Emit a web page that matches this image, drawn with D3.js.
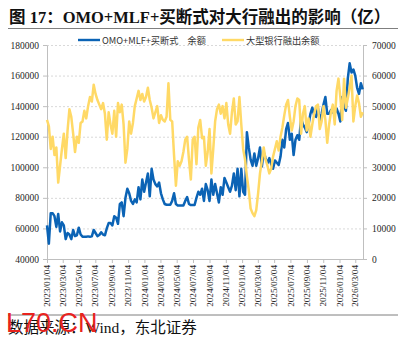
<!DOCTYPE html>
<html>
<head>
<meta charset="utf-8">
<script src="https://cdn.jsdelivr.net/npm/d3@7"></script>
<style>
  body { margin: 0; background: #fff; }
</style>
</head>
<body>
<div id="chart"></div>
<script>
// weekly points starting 2023/01/04
const startDate = '2023/01/04'

// OMO+MLF+买断式 余额 (left axis)
const omoBalance = [
  62000, 50000, 70000, 70000, 68000, 61000, 69500, 58000, 64000, 62000,
  53000, 57000, 56000, 53000, 59000, 55000, 55500, 60500, 56000, 54600,
  54600, 54600, 54800, 54600, 54800, 59000, 57000, 55000, 55700, 57500,
  56000, 55500, 60000, 63500, 63500, 62000, 68000, 67000, 63000, 76000,
  77000, 68000, 80000, 86000, 83000, 78000, 76000, 79000, 77000, 87000,
  79000, 92000, 84000, 90000, 96000, 81000, 99000, 92000, 89000, 87500,
  90000, 83000, 79000, 76000, 75500, 75500, 75500, 78000, 83000, 76000,
  75000, 75000, 75000, 75000, 78000, 80500, 76000, 75300, 75300, 75300,
  80000, 84000, 82000, 86000, 78000, 89000, 85000, 78000, 92000, 82000,
  89000, 83000, 77000, 87000, 82000, 93000, 90000, 87000, 84000, 88000,
  96000, 85000, 99000, 81000, 99000, 84000, 82000, 123000, 113000, 105000,
  101000, 109000, 101000, 106000, 113000, 100500, 110000, 106000, 102600, 106000,
  102000, 99000, 104500, 103000, 101500, 107000, 118000, 113000, 125000, 129000,
  118000, 122000, 108000, 118000, 121000, 118000, 132000, 128000, 126000, 123000,
  128000, 135000, 139000, 134000, 133000, 139000, 130000, 135000, 141000, 146000,
  135000, 135000, 137500, 136000, 135000, 138500, 135000, 130000, 146000, 140000,
  137000, 158000, 168000, 162000, 164000, 160000, 152000, 148000, 155000, 151000
]

// 大型银行融出余额 (right axis)
const bankLending = [
  45500, 43500, 36000, 40000, 34000, 36500, 25000, 30500, 36000, 41000,
  33000, 42000, 49000, 46500, 41000, 35000, 40000, 38000, 44500, 45000,
  48500, 46000, 50000, 53000, 51500, 57000, 54000, 52000, 50500, 49000,
  51000, 47500, 39000, 48000, 44000, 41000, 48500, 40000, 51000, 48000,
  50500, 44000, 31500, 36000, 45000, 41000, 44500, 50000, 52500, 55000,
  52000, 54000, 51500, 53000, 56000, 52000, 49500, 46000, 48000, 50000,
  44500, 47000, 45500, 45000, 46500, 57500, 45500, 45000, 34000, 24000,
  32000, 30500, 32000, 35000, 39000, 40000, 32500, 26000, 39000, 40000,
  31000, 43000, 45500, 39500, 40000, 30500, 35000, 42500, 28000, 36000,
  45000, 49000, 50500, 47500, 50000, 46000, 51000, 44000, 41000, 48000,
  52500, 44000, 45000, 53000, 44000, 36000, 32500, 27000, 22500, 16500,
  15000, 14000, 16000, 21500, 28000, 32000, 36500, 32500, 30500, 28000,
  29500, 33500, 36000, 38500, 35500, 40000, 43000, 47000, 50500, 52000,
  46500, 42000, 45000, 50000, 52500, 52000, 41000, 47500, 50000, 42000,
  46000, 40000, 44000, 47500, 50000, 50500, 42500, 45000, 50000, 45500,
  38000, 44000, 48000, 50500, 44000, 55000, 59000, 53000, 45500, 59000,
  49500, 52500, 56000, 60000, 45000, 50000, 53500, 51000, 46500, 48000
]

const leftTicks = [40000, 60000, 80000, 100000, 120000, 140000, 160000, 180000]
const rightTicks = [0, 10000, 20000, 30000, 40000, 50000, 60000, 70000]
const dateTicks = [
  '2023/01/04', '2023/03/04', '2023/05/04', '2023/07/04', '2023/09/04', '2023/11/04',
  '2024/01/04', '2024/03/04', '2024/05/04', '2024/07/04', '2024/09/04', '2024/11/04',
  '2025/01/04', '2025/03/04', '2025/05/04', '2025/07/04', '2025/09/04', '2025/11/04',
  '2026/01/04', '2026/03/04'
]

const width = 404
const height = 342
const plot = { left: 47, right: 363, top: 45, bottom: 259 }

const parse = d3.utcParse('%Y/%m/%d')
const start = parse(startDate)
const dates = omoBalance.map((d, i) => d3.utcDay.offset(start, 7 * i))

const svg = d3.select('#chart')
  .append('svg')
  .attr('width', width)
  .attr('height', height)
  .style('background', '#fff')

const x = d3.scaleUtc()
  .domain([start, parse('2026/04/02')])
  .range([plot.left, plot.right])

const yLeft = d3.scaleLinear().domain([40000, 180000]).range([plot.bottom, plot.top])
const yRight = d3.scaleLinear().domain([0, 70000]).range([plot.bottom, plot.top])

// title
svg.append('text')
  .attr('x', 9)
  .attr('y', 22.5)
  .attr('font-family', '"Liberation Serif", "Noto Sans CJK SC", serif')
  .attr('font-size', 16.5)
  .attr('font-weight', 'bold')
  .attr('fill', '#111')
  .text('图 17：OMO+MLF+买断式对大行融出的影响（亿）')

svg.append('line')
  .attr('x1', 8).attr('x2', 398)
  .attr('y1', 28.5).attr('y2', 28.5)
  .attr('stroke', '#7f7f7f')
  .attr('stroke-width', 1.2)

// gridlines
svg.append('g')
  .selectAll('line')
  .data(leftTicks.slice(1))
  .enter()
  .append('line')
  .attr('x1', plot.left).attr('x2', plot.right)
  .attr('y1', d => yLeft(d) + 0.5).attr('y2', d => yLeft(d) + 0.5)
  .attr('stroke', '#d9d9d9')
  .attr('stroke-dasharray', '2,2')

const tickFont = '"Liberation Serif", "Times New Roman", serif'

function styleAxis(g) {
  g.select('.domain').attr('stroke', '#bfbfbf')
  g.selectAll('.tick line').attr('stroke', '#bfbfbf')
  g.selectAll('.tick text')
    .attr('font-family', tickFont)
    .attr('font-size', 9.5)
    .attr('fill', '#262626')
}

svg.append('g')
  .attr('transform', `translate(${plot.left},0)`)
  .call(d3.axisLeft(yLeft).tickValues(leftTicks).tickSize(4).tickSizeOuter(0).tickPadding(4).tickFormat(d3.format('d')))
  .call(styleAxis)

svg.append('g')
  .attr('transform', `translate(${plot.right},0)`)
  .call(d3.axisRight(yRight).tickValues(rightTicks).tickSize(4).tickSizeOuter(0).tickPadding(5).tickFormat(d3.format('d')))
  .call(styleAxis)

const xAxis = svg.append('g')
  .attr('transform', `translate(0,${plot.bottom})`)
  .call(d3.axisBottom(x).tickValues(dateTicks.map(parse)).tickSize(4).tickSizeOuter(0).tickFormat(d3.utcFormat('%Y/%m/%d')))
  .call(styleAxis)

xAxis.selectAll('.tick text')
  .attr('y', 0)
  .attr('dy', 0)
  .attr('transform', 'translate(0.5,6) rotate(-90)')
  .attr('text-anchor', 'end')
  .attr('dominant-baseline', 'middle')
  .attr('font-size', 9.2)

// lines
const omoLine = d3.line()
  .x((d, i) => x(dates[i]))
  .y(d => yLeft(d))

const bankLine = d3.line()
  .x((d, i) => x(dates[i]))
  .y(d => yRight(d))

svg.append('path')
  .datum(omoBalance)
  .attr('d', omoLine)
  .attr('fill', 'none')
  .attr('stroke', '#0B63B5')
  .attr('stroke-width', 2.5)
  .attr('stroke-linejoin', 'round')

svg.append('path')
  .datum(bankLending)
  .attr('d', bankLine)
  .attr('fill', 'none')
  .attr('stroke', '#FFD966')
  .attr('stroke-width', 2.5)
  .attr('stroke-linejoin', 'round')

// legend
const legendFont = '"Noto Sans CJK SC", "DejaVu Sans", sans-serif'
const legend = [
  { label: 'OMO+MLF+买断式\u3000余额', color: '#0B63B5', x: 78 },
  { label: '大型银行融出余额', color: '#FFD966', x: 222 }
]
const lg = svg.append('g')
lg.selectAll('line')
  .data(legend)
  .enter()
  .append('line')
  .attr('x1', d => d.x).attr('x2', d => d.x + 22)
  .attr('y1', 40).attr('y2', 40)
  .attr('stroke', d => d.color)
  .attr('stroke-width', 2.4)
lg.selectAll('text')
  .data(legend)
  .enter()
  .append('text')
  .attr('x', d => d.x + 24)
  .attr('y', 43.5)
  .attr('font-family', legendFont)
  .attr('font-size', 9.2)
  .attr('fill', '#333')
  .text(d => d.label)

// footer
svg.append('line')
  .attr('x1', 8).attr('x2', 398)
  .attr('y1', 315).attr('y2', 315)
  .attr('stroke', '#7f7f7f')
  .attr('stroke-width', 1)

svg.append('text')
  .attr('x', 8)
  .attr('y', 333)
  .attr('font-family', '"Liberation Serif", "Noto Sans CJK SC", serif')
  .attr('font-size', 15.5)
  .attr('fill', '#111')
  .text('数据来源：Wind，东北证券')

// red watermark stamped over the source line, as in the reference
svg.append('text')
  .attr('x', 6)
  .attr('y', 332)
  .attr('font-family', '"Liberation Sans", Arial, sans-serif')
  .attr('font-size', 27)
  .attr('fill', '#e8231e')
  .text('L70.CN')
</script>
</body>
</html>
